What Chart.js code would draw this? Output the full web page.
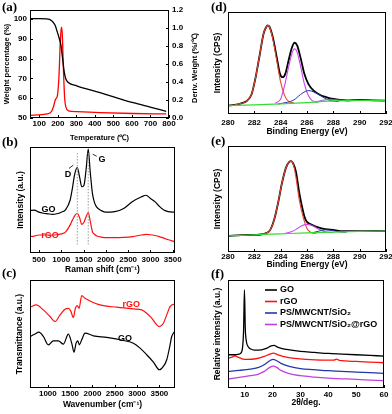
<!DOCTYPE html>
<html>
<head>
<meta charset="utf-8">
<title>GO / rGO characterisation</title>
<script src="https://cdn.jsdelivr.net/npm/chart.js"></script>
<style>
  body { margin: 0; background: #fff; }
  #fig { position: relative; width: 392px; height: 414px; overflow: hidden; }
  #fig canvas { position: absolute; }
  .tag { position: absolute; font: bold 13px "Liberation Serif", "Times New Roman", serif; color: #000; }
  .side-title { position: absolute; font: bold 7.5px "Liberation Sans", Arial, sans-serif; white-space: nowrap;
                transform: translate(-50%, -50%) rotate(-90deg); }
</style>
</head>
<body>
<div id="fig">
  <canvas id="chartA" width="200" height="145" style="left:0;top:0"></canvas>
  <canvas id="chartB" width="195" height="135" style="left:0;top:140px"></canvas>
  <canvas id="chartC" width="195" height="139" style="left:0;top:275px"></canvas>
  <canvas id="chartD" width="197" height="140" style="left:195px;top:0"></canvas>
  <canvas id="chartE" width="197" height="135" style="left:195px;top:140px"></canvas>
  <canvas id="chartF" width="197" height="139" style="left:195px;top:275px"></canvas>

  <div class="tag" style="left:2px;top:-1px">(a)</div>
  <div class="tag" style="left:2px;top:134px">(b)</div>
  <div class="tag" style="left:2px;top:265px">(c)</div>
  <div class="tag" style="left:211px;top:-1px">(d)</div>
  <div class="tag" style="left:211px;top:133px">(e)</div>
  <div class="tag" style="left:211px;top:266px">(f)</div>

  <div class="side-title" style="left:194px;top:68px">Deriv. Weight (%/℃)</div>
</div>

<script>
// (a) TGA and DTG of GO
var tgaTemp   = [50, 100, 140, 167, 185, 197, 208, 217, 226, 235, 244, 257, 302, 428, 518, 607, 698, 785];
var tgaWeight = [100.1, 100.1, 100, 99.1, 96.9, 93.5, 90.1, 86.7, 79.9, 73.0, 69.6, 67.9, 66.2, 62.8, 60.2, 57.7, 55.5, 53.4];
var dtgTemp   = [50, 140, 167, 180, 188, 197, 206, 213, 219, 224, 230, 237, 244, 257, 302, 428, 607, 785];
var dtgDeriv  = [0.03, 0.045, 0.075, 0.15, 0.21, 0.24, 0.45, 0.82, 1.01, 0.94, 0.56, 0.22, 0.12, 0.08, 0.07, 0.06, 0.05, 0.045];
var tempTicks   = [100, 200, 300, 400, 500, 600, 700, 800];
var weightTicks = [50, 60, 70, 80, 90, 100];
var derivTicks  = [0, 0.2, 0.4, 0.6, 0.8, 1.0, 1.2];

// (b) Raman spectra
var ramanShift = [300, 400, 500, 600, 700, 800, 900, 1000, 1100, 1200, 1250, 1300, 1360, 1410, 1460, 1510, 1560, 1605, 1650, 1700, 1750, 1800, 1900, 2000, 2200, 2400, 2600, 2800, 2900, 3000, 3100, 3200, 3300, 3400, 3550];
var ramanGO    = [4.0, 4.05, 3.85, 3.75, 3.7, 3.65, 3.7, 3.85, 4.1, 5.0, 6.1, 7.4, 8.05, 7.2, 6.25, 6.4, 8.0, 9.8, 7.65, 5.6, 4.7, 4.3, 4.0, 3.85, 3.9, 4.2, 4.85, 5.3, 5.45, 5.15, 4.85, 4.4, 4.05, 3.9, 3.85];
var ramanRGO   = [1.55, 1.6, 1.7, 1.7, 1.7, 1.7, 1.72, 1.8, 2.0, 2.65, 3.1, 3.5, 3.75, 3.35, 2.7, 2.9, 3.45, 3.8, 3.0, 2.0, 1.75, 1.6, 1.5, 1.45, 1.45, 1.48, 1.55, 1.7, 1.75, 1.72, 1.65, 1.55, 1.4, 1.25, 1.05];
var ramanBands = [1360, 1605];
var ramanTicks = [500, 1000, 1500, 2000, 2500, 3000, 3500];

// (c) FTIR spectra
var ftirWaveRGO = [606, 740, 899, 1048, 1161, 1273, 1385, 1460, 1512, 1572, 1617, 1662, 1700, 1759, 1834, 1946, 2170, 2544, 2917, 3104, 3216, 3328, 3440, 3500, 3590, 3665, 3740, 3814, 3852];
var ftirRGO     = [74.8, 76.9, 72.3, 66.2, 61.5, 67.7, 72.9, 73.8, 71.4, 65.2, 73.8, 76.3, 73.8, 85.5, 83.1, 80.6, 76.9, 74.8, 73.2, 72.3, 69.2, 64.6, 58.5, 56.9, 60.0, 67.7, 75.4, 77.5, 77.5];
var ftirWaveGO  = [606, 703, 800, 899, 1011, 1123, 1236, 1348, 1460, 1535, 1587, 1632, 1669, 1707, 1759, 1834, 2021, 2320, 2694, 2917, 3067, 3216, 3366, 3500, 3590, 3665, 3725, 3777, 3830, 3852];
var ftirGO      = [47.7, 49.8, 51.7, 47.7, 40.0, 43.7, 43.7, 40.6, 49.8, 41.5, 33.2, 41.5, 43.7, 40.0, 44.6, 50.8, 48.3, 46.8, 44.0, 41.5, 36.9, 30.8, 24.0, 16.9, 20.0, 26.2, 36.9, 47.7, 51.7, 52.3];
var ftirTicks   = [1000, 1500, 2000, 2500, 3000, 3500];

// (d) C1s XPS of GO
var xpsDEnergy   = [280, 280.5, 281.0, 281.4, 281.8, 282.1, 282.4, 282.7, 282.9, 283.0, 283.15, 283.4, 283.7, 283.95, 284.15, 284.35, 284.6, 284.85, 285.05, 285.25, 285.5, 285.8, 286.1, 286.5, 287.0, 287.5, 288.0, 288.5, 289, 290, 291, 292];
var xpsDEnvelope = [35, 37, 42, 48, 70, 120, 185, 250, 270, 275, 271, 240, 180, 130, 120, 130, 170, 208, 223, 215, 180, 130, 100, 80, 67, 60, 55, 52, 51, 52, 51, 50];
var xpsDPeak1E = [280.5, 281.0, 281.4, 281.8, 282.1, 282.4, 282.7, 282.9, 283.0, 283.15, 283.4, 283.7, 284.0, 284.3, 284.6, 285.0];
var xpsDPeak1  = [37, 42, 48, 70, 120, 185, 250, 270, 275, 270, 235, 170, 105, 65, 48, 43];
var xpsDPeak2E = [283.6, 284.0, 284.3, 284.6, 284.85, 285.05, 285.25, 285.5, 285.8, 286.1, 286.4, 286.8];
var xpsDPeak2  = [42, 55, 95, 150, 190, 205, 195, 155, 100, 65, 50, 45];
var xpsDPeak3E = [283.8, 284.5, 285.0, 285.5, 285.9, 286.15, 286.5, 286.9, 287.3, 287.8, 288.4];
var xpsDPeak3  = [40, 45, 52, 68, 78, 80, 76, 68, 58, 50, 47];
var xpsDPeak4E = [286.6, 287.2, 287.8, 288.4, 289.2];
var xpsDPeak4  = [46, 51, 54, 52, 49];
var xpsDBaseE  = [280, 282, 284, 286, 288, 290, 292];
var xpsDBase   = [35, 37, 40, 44, 49, 51, 50];

// (e) C1s XPS of rGO
var xpsEEnergy   = [280, 281, 282, 282.5, 282.9, 283.2, 283.5, 283.8, 284.1, 284.4, 284.65, 284.8, 284.95, 285.15, 285.45, 285.85, 286.4, 287.1, 288.1, 288.7, 290, 292];
var xpsEEnvelope = [48, 50, 51, 52, 56, 65, 95, 145, 205, 250, 268, 270, 263, 240, 168, 100, 80, 70, 65, 62, 62, 62];
var xpsEPeak1E = [282.5, 282.9, 283.2, 283.5, 283.8, 284.1, 284.4, 284.65, 284.8, 284.95, 285.15, 285.4, 285.7, 286.0, 286.3, 286.7];
var xpsEPeak1  = [52, 56, 65, 95, 145, 205, 250, 268, 270, 262, 225, 158, 105, 70, 58, 55];
var xpsEPeak2E = [284.3, 284.8, 285.2, 285.6, 286.0, 286.3, 286.7, 287.1, 287.5, 288.0];
var xpsEPeak2  = [55, 60, 68, 78, 82, 80, 72, 64, 59, 58];
var xpsEPeak3E = [286.4, 286.9, 287.4, 287.9, 288.4, 289.0];
var xpsEPeak3  = [57, 62, 66, 64, 60, 59];
var xpsEBaseE  = [280, 282, 284, 286, 288, 290, 292];
var xpsEBase   = [48, 51, 54, 57, 59, 61, 62];
var energyTicks = [280, 282, 284, 286, 288, 290, 292];

// (f) XRD patterns
var xrdAngleGO  = [4, 6, 8, 8.5, 9.2, 9.6, 9.9, 10.2, 10.6, 11.2, 12, 13.5, 16, 18, 19.5, 20.5, 22, 25, 30, 35, 40, 45, 50, 55, 60];
var xrdGO       = [100, 100, 102, 104, 120, 175, 295, 180, 140, 125, 118, 114, 115, 120, 127, 128, 122, 116, 110, 107, 104, 102, 100, 98, 96];
var xrdAngleRGO = [4, 5.5, 6.5, 7.5, 9, 11, 14, 17, 19, 20.3, 22, 25, 28, 32, 38, 42, 43, 44, 50, 55, 60];
var xrdRGO      = [90, 93, 97, 93, 88, 86, 88, 95, 102, 105, 100, 93, 89, 86, 84, 84, 87, 83, 80, 78, 76];
var xrdAngle    = [4, 8, 12, 15, 17, 19, 20.2, 21.5, 23, 26, 30, 35, 40, 50, 60];
var xrdPS       = [50, 53, 57, 62, 70, 82, 86, 82, 74, 65, 58, 55, 52, 48, 44];
var xrdPSrGO    = [27, 32, 37, 42, 50, 62, 66, 62, 53, 43, 37, 33, 30, 26, 22];
var xrdNames    = ['GO', 'rGO', 'PS/MWCNT/SiO₂', 'PS/MWCNT/SiO₂@rGO'];
var angleTicks  = [10, 20, 30, 40, 50, 60];

var FONT = '"Liberation Sans", Arial, sans-serif';
Chart.defaults.font.family = FONT;
Chart.defaults.color = '#000';

var tickFont = { size: 8, weight: 'bold' };
var titleFont = { size: 8.5, weight: 'bold' };

function xy(xs, ys) {
    return xs.map(function (x, i) { return { x: x, y: ys[i] }; });
}

// box round the plot area, with short inward ticks
var framePlugin = {
    id: 'frame',
    afterDatasetsDraw: function (chart) {
        var a = chart.chartArea, ctx = chart.ctx;
        ctx.save();
        ctx.strokeStyle = '#000';
        ctx.lineWidth = 1;
        ctx.strokeRect(a.left + 0.5, a.top + 0.5, a.right - a.left - 1, a.bottom - a.top - 1);
        Object.keys(chart.scales).forEach(function (id) {
            var s = chart.scales[id];
            if (!s.options.ticks.display) return;
            s.ticks.forEach(function (t) {
                var p = Math.round(s.getPixelForValue(t.value)) + 0.5;
                ctx.beginPath();
                if (s.isHorizontal()) { ctx.moveTo(p, a.bottom); ctx.lineTo(p, a.bottom - 3); }
                else if (s.position === 'left') { ctx.moveTo(a.left, p); ctx.lineTo(a.left + 3, p); }
                else { ctx.moveTo(a.right, p); ctx.lineTo(a.right - 3, p); }
                ctx.stroke();
            });
        });
        ctx.restore();
    }
};
Chart.register(framePlugin);

// text labels placed in data coordinates
function notesPlugin(items) {
    return {
        id: 'notes',
        afterDatasetsDraw: function (chart) {
            var ctx = chart.ctx, xs = chart.scales.x, ys = chart.scales.y;
            ctx.save();
            ctx.font = 'bold 9px ' + FONT;
            ctx.textAlign = 'center';
            ctx.textBaseline = 'middle';
            items.forEach(function (n) {
                var px = xs.getPixelForValue(n.x), py = ys.getPixelForValue(n.y);
                ctx.fillStyle = n.color;
                ctx.fillText(n.text, px, py);
                if (n.lead) {
                    ctx.strokeStyle = n.color;
                    ctx.lineWidth = 0.8;
                    ctx.beginPath();
                    ctx.moveTo(px + n.lead[0], py + n.lead[1]);
                    ctx.lineTo(px + n.lead[2], py + n.lead[3]);
                    ctx.stroke();
                }
            });
            ctx.restore();
        }
    };
}

// legend drawn inside the plot area (panel f)
function insideLegend(dx, dy, step) {
    return {
        id: 'insideLegend',
        afterDatasetsDraw: function (chart) {
            var ctx = chart.ctx, a = chart.chartArea;
            ctx.save();
            ctx.font = 'bold 9px ' + FONT;
            ctx.textBaseline = 'middle';
            chart.data.datasets.forEach(function (ds, i) {
                var y = a.top + dy + i * step;
                ctx.strokeStyle = ds.borderColor;
                ctx.lineWidth = 1.6;
                ctx.beginPath();
                ctx.moveTo(a.left + dx, y);
                ctx.lineTo(a.left + dx + 12, y);
                ctx.stroke();
                ctx.fillStyle = '#000';
                ctx.fillText(ds.label, a.left + dx + 15, y);
            });
            ctx.restore();
        }
    };
}

function xAxis(min, max, ticks, title, boxHeight, tickPad, titlePad) {
    return {
        type: 'linear', min: min, max: max,
        grid: { display: false, drawTicks: false }, border: { display: false },
        afterBuildTicks: function (s) { s.ticks = ticks.map(function (v) { return { value: v }; }); },
        ticks: { font: tickFont, padding: tickPad, maxRotation: 0, autoSkip: false,
                 callback: function (v) { return String(v); } },
        title: { display: true, text: title, font: titleFont, padding: { top: 0, bottom: titlePad } },
        afterFit: function (s) { s.height = boxHeight; s.paddingLeft = 0; s.paddingRight = 0; }
    };
}

function yAxis(min, max, title, boxWidth, titlePad, ticks, digits, position, titleSize) {
    var axis = {
        type: 'linear', min: min, max: max, position: position || 'left',
        grid: { display: false, drawTicks: false }, border: { display: false },
        ticks: { display: false },
        title: { display: !!title, text: title, font: { size: titleSize || titleFont.size, weight: 'bold' },
                 padding: { top: titlePad, bottom: 0 } },
        afterFit: function (s) { s.width = boxWidth; }
    };
    if (ticks) {
        axis.afterBuildTicks = function (s) { s.ticks = ticks.map(function (v) { return { value: v }; }); };
        axis.ticks = { display: true, font: tickFont, padding: 3,
                       callback: function (v) { return v.toFixed(digits); } };
    }
    return axis;
}

function options(top, right, scales) {
    return {
        responsive: false,
        animation: false,
        layout: { padding: { top: top, right: right, left: 0, bottom: 0 } },
        plugins: { legend: { display: false }, tooltip: { enabled: false } },
        elements: { point: { radius: 0 }, line: { borderWidth: 1.2, cubicInterpolationMode: 'monotone' } },
        scales: scales
    };
}

function line(data, color, width, extra) {
    var ds = { data: data, borderColor: color, borderWidth: width, fill: false };
    for (var k in extra) ds[k] = extra[k];
    return ds;
}

// (a)
var axisA = xAxis(50, 800, tempTicks, 'Temperature (℃)', 27, 1, 3);
axisA.title.font = { size: 7.5, weight: 'bold' };
new Chart(document.getElementById('chartA'), {
    type: 'line',
    data: { datasets: [
        line(xy(tgaTemp, tgaWeight), '#000000', 1.3, { yAxisID: 'y' }),
        line(xy(dtgTemp, dtgDeriv), '#ff0000', 1.3, { yAxisID: 'y1' })
    ] },
    options: options(10, 0, {
        x: axisA,
        y: yAxis(50, 104.5, 'Weight percentage (%)', 30, 2, weightTicks, 0, 'left', 7.5),
        y1: yAxis(0, 1.2, '', 31, 0, derivTicks, 1, 'right')
    })
});

// (b)
var bandLines = ramanBands.map(function (b) {
    return line(xy([b, b], [0.8, 9.6]), '#9a9a9a', 1, { borderDash: [1.5, 1.5] });
});
new Chart(document.getElementById('chartB'), {
    type: 'line',
    data: { datasets: bandLines.concat([
        line(xy(ramanShift, ramanGO), '#000000', 1.2),
        line(xy(ramanShift, ramanRGO), '#ff1010', 1.2)
    ]) },
    options: options(7, 20, {
        x: xAxis(300, 3550, ramanTicks, 'Raman shift (cm⁻¹)', 22, 2, 0),
        y: yAxis(0, 10, 'Intensity (a.u.)', 30, 16)
    }),
    plugins: [notesPlugin([
        { text: 'D', x: 1152, y: 7.44, color: '#000', lead: [1, -5.7, 5.3, -9] },
        { text: 'G', x: 1914, y: 8.8, color: '#000', lead: [-9.3, -5.5, -5.3, -3.5] },
        { text: 'GO', x: 715, y: 4.06, color: '#000' },
        { text: 'rGO', x: 748, y: 1.69, color: '#ff1010' }
    ])]
});

// (c)
new Chart(document.getElementById('chartC'), {
    type: 'line',
    data: { datasets: [
        line(xy(ftirWaveRGO, ftirRGO), '#ff1010', 1.2),
        line(xy(ftirWaveGO, ftirGO), '#000000', 1.2)
    ] },
    options: options(5, 20, {
        x: xAxis(600, 3850, ftirTicks, 'Wavenumber (cm⁻¹)', 26, 1, 4),
        y: yAxis(0, 100, 'Transmittance (a.u.)', 30, 15)
    }),
    plugins: [notesPlugin([
        { text: 'rGO', x: 2871, y: 77.6, color: '#ff1010' },
        { text: 'GO', x: 2730, y: 46, color: '#000' }
    ])]
});

// (d)
new Chart(document.getElementById('chartD'), {
    type: 'line',
    data: { datasets: [
        line(xy(xpsDBaseE, xpsDBase), '#33dd33', 1.2),
        line(xy(xpsDPeak4E, xpsDPeak4), '#9955cc', 1),
        line(xy(xpsDPeak3E, xpsDPeak3), '#2233aa', 1),
        line(xy(xpsDPeak2E, xpsDPeak2), '#cc44ee', 1.1),
        line(xy(xpsDPeak1E, xpsDPeak1), '#e8452c', 1.1),
        line(xy(xpsDEnergy, xpsDEnvelope), '#000000', 1.8)
    ] },
    options: options(12, 6, {
        x: xAxis(280, 292, energyTicks, 'Binding Energy (eV)', 26, 3.5, 3),
        y: yAxis(10, 315, 'Intensity (CPS)', 33, 18)
    })
});

// (e)
new Chart(document.getElementById('chartE'), {
    type: 'line',
    data: { datasets: [
        line(xy(xpsEBaseE, xpsEBase), '#33dd33', 1.2),
        line(xy(xpsEPeak3E, xpsEPeak3), '#2233aa', 1),
        line(xy(xpsEPeak2E, xpsEPeak2), '#cc44ee', 1.1),
        line(xy(xpsEPeak1E, xpsEPeak1), '#e8452c', 1.1),
        line(xy(xpsEEnergy, xpsEEnvelope), '#000000', 1.8)
    ] },
    options: options(6, 6, {
        x: xAxis(280, 292, energyTicks, 'Binding Energy (eV)', 23, 0, 5),
        y: yAxis(0, 315, 'Intensity (CPS)', 33, 18)
    })
});

// (f)
new Chart(document.getElementById('chartF'), {
    type: 'line',
    data: { datasets: [
        line(xy(xrdAngleGO, xrdGO), '#000000', 1.3, { label: xrdNames[0] }),
        line(xy(xrdAngleRGO, xrdRGO), '#ff1010', 1.3, { label: xrdNames[1] }),
        line(xy(xrdAngle, xrdPS), '#2436a8', 1.3, { label: xrdNames[2] }),
        line(xy(xrdAngle, xrdPSrGO), '#c040dd', 1.3, { label: xrdNames[3] })
    ] },
    options: options(5, 8, {
        x: xAxis(4, 60, angleTicks, '2θ/deg.', 26, 2, 6),
        y: yAxis(0, 325, 'Relative intensity (a.u.)', 33, 18)
    }),
    plugins: [insideLegend(37, 10, 11.5)]
});
</script>
</body>
</html>
